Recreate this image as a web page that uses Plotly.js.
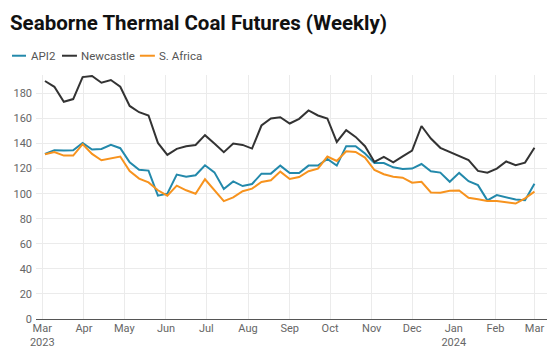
<!DOCTYPE html>
<html>
<head>
<meta charset="utf-8">
<script src="https://cdn.plot.ly/plotly-3.0.1.min.js"></script>
<style>html,body{margin:0;padding:0;background:#fff;}#chart{width:560px;height:360px;}</style>
</head>
<body>
<div id="chart"></div>
<script>
// Weekly observations (Fridays), starting 3 Mar 2023
var startDate = '2023-03-03';
var seriesNames = ['API2', 'Newcastle', 'S. Africa'];
var seriesColors = ['#2389ab', '#333333', '#f7931e'];

var api2 = [131.7,134.7,134.4,134.7,140.5,135.2,135.7,138.9,136.3,125,
  119,118.4,98.4,100,115.2,113.6,114.7,122.7,117,103.7,
  109.8,106.1,107.7,116,116,122.4,116.5,116.5,122.4,122.4,
  127.7,122.4,137.9,137.9,132,124.5,124.5,121,119.7,120,
  123.7,117.9,116.8,109.5,116.6,110,106.8,94.7,98.9,96.8,
  95.3,94.7,107.9];
var newcastle = [189.9,185.3,173.3,175.5,193,193.9,188.5,190.7,185.3,170,
  165,162.4,140.5,131,135.8,137.9,138.9,146.7,140,133.1,
  140,138.9,136,154.4,160,161,156,159.7,166.4,162.4,
  160,141.3,150.7,145.3,137.9,125.3,129.3,125,129.8,134.4,
  154,144,136.6,133.2,130,126.8,118.2,116.8,120,125.7,
  122.7,124.8,136.6];
var sAfrica = [131.5,133.3,130.4,130.4,139.5,131.7,126.7,128.3,129.6,118,
  112,109,102.7,98.4,106.4,102.7,100,111.5,103.2,94.1,
  97,102,104,109.3,110.7,117.6,111.7,113.3,117.9,120,
  129.6,126.1,133.9,133.3,128.8,118.9,115.5,113.6,112.8,108.8,
  109.5,101,100.8,102.4,102.6,96.8,95.5,94.2,94.2,92.9,
  92.1,96.3,101.6];
var yTicks = [0,20,40,60,80,100,120,140,160,180];
var xTickVals = ['2023-03-01','2023-04-01','2023-05-01','2023-06-01','2023-07-01',
  '2023-08-01','2023-09-01','2023-10-01','2023-11-01','2023-12-01',
  '2024-01-01','2024-02-01','2024-03-01'];
var xTickText = ['Mar<br>2023','Apr','May','Jun','Jul','Aug','Sep','Oct','Nov','Dec',
  'Jan<br>2024','Feb','Mar'];

function weeklyDates(start, n) {
  var out = [];
  var d0 = new Date(start + 'T00:00:00Z');
  for (var i = 0; i < n; i++) {
    var d = new Date(d0.getTime() + i * 7 * 86400000);
    out.push(d.toISOString().slice(0, 10));
  }
  return out;
}
var dates = weeklyDates(startDate, api2.length);
var allSeries = [api2, newcastle, sAfrica];

var traces = allSeries.map(function (vals, k) {
  return {
    x: dates, y: vals, type: 'scatter', mode: 'lines', name: seriesNames[k],
    line: {color: seriesColors[k], width: 2}, hoverinfo: 'x+y+name'
  };
});

// plot-area geometry (px)
var L = 36, R = 12.5, T = 75, B = 40.7, W = 560, H = 360;
var pw = W - L - R, ph = H - T - B;
function px2x(px) { return (px - L) / pw; }
function py2y(py) { return (H - B - py) / ph; }

// custom legend
var legendItems = [
  {x0: 12, x1: 26, tx: 28.5},
  {x0: 62, x1: 77, tx: 79},
  {x0: 140, x1: 155, tx: 157.5}
];
var shapes = [], annotations = [];
legendItems.forEach(function (it, k) {
  shapes.push({type: 'line', xref: 'paper', yref: 'paper',
    x0: px2x(it.x0), x1: px2x(it.x1), y0: py2y(55.7), y1: py2y(55.7),
    line: {color: seriesColors[k], width: 2}});
  annotations.push({xref: 'paper', yref: 'paper', x: px2x(it.tx), y: py2y(55.7),
    xanchor: 'left', yanchor: 'middle', showarrow: false, text: seriesNames[k],
    font: {family: 'Roboto, sans-serif', size: 11.5, color: '#555555'}});
});

var layout = {
  width: W, height: H,
  margin: {l: L, r: R, t: T, b: B, pad: 0},
  paper_bgcolor: '#ffffff', plot_bgcolor: '#ffffff',
  showlegend: false,
  title: {
    text: '<b>Seaborne Thermal Coal Futures (Weekly)</b>',
    font: {family: 'Roboto, sans-serif', size: 20.5, color: '#111111'},
    xref: 'container', yref: 'container', x: 10 / W, xanchor: 'left',
    y: 1 - 23 / H, yanchor: 'middle'
  },
  xaxis: {
    type: 'date',
    range: ['2023-02-24 08:00', '2024-03-10 08:00'],
    tickmode: 'array', tickvals: xTickVals, ticktext: xTickText,
    showgrid: true, gridcolor: '#ebebeb', gridwidth: 1,
    zeroline: false, showline: false, ticks: '', ticklabelstandoff: 1,
    tickfont: {family: 'Roboto, sans-serif', size: 11, color: '#666666'}
  },
  yaxis: {
    range: [0, 194.7],
    tickvals: yTicks,
    showgrid: true, gridcolor: '#ebebeb', gridwidth: 1,
    zeroline: true, zerolinecolor: '#555555', zerolinewidth: 1,
    showline: false, ticks: '', ticklabelstandoff: 3,
    tickfont: {family: 'Roboto, sans-serif', size: 11, color: '#666666'}
  },
  shapes: shapes,
  annotations: annotations
};

Plotly.newPlot('chart', traces, layout, {displayModeBar: false, staticPlot: true});
</script>
</body>
</html>
